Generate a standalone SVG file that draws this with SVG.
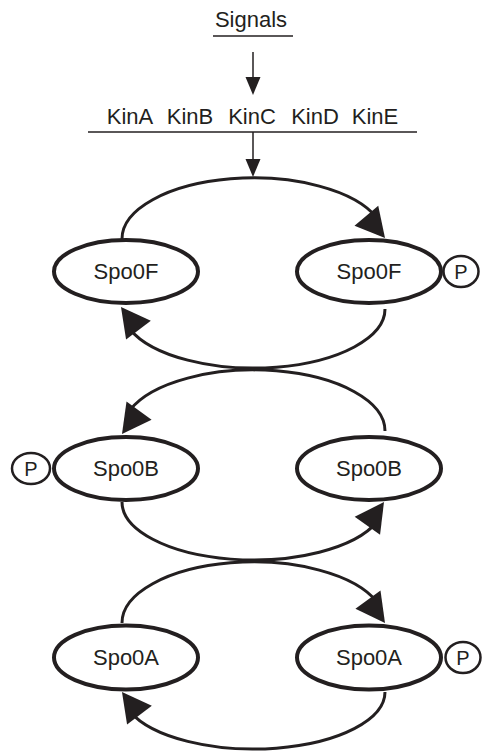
<svg xmlns="http://www.w3.org/2000/svg" width="483" height="751" viewBox="0 0 483 751">
  <style>
    text { font-family: "Liberation Sans", Arial, sans-serif; fill: #231f20; }
    .lbl { font-size: 22px; text-anchor: middle; }
    .p { font-size: 20px; text-anchor: middle; }
    .node { fill: #ffffff; stroke: #231f20; stroke-width: 4; }
    .phos { fill: #ffffff; stroke: #231f20; stroke-width: 2.5; }
    .rule { stroke: #231f20; stroke-width: 1.5; fill: none; }
    .arc { stroke: #231f20; stroke-width: 3; fill: none; }
    .head { fill: #231f20; }
  </style>
  <defs>
    <!-- large arrowhead, tip at origin pointing along +x -->
    <polygon id="bighead" points="0,0 -29,-15.5 -29,15.5"/>
    <!-- small arrowhead for the signal cascade -->
    <polygon id="smallhead" points="0,0 -18,-7.5 -18,7.5"/>
  </defs>

  <!-- signal input and kinases -->
  <g id="signals">
    <text class="lbl" x="251" y="27">Signals</text>
    <line class="rule" x1="213" y1="36" x2="293" y2="36"/>
  </g>
  <g id="kinases">
    <text class="lbl" x="130" y="124">KinA</text>
    <text class="lbl" x="190" y="124">KinB</text>
    <text class="lbl" x="252" y="124">KinC</text>
    <text class="lbl" x="315" y="124">KinD</text>
    <text class="lbl" x="375" y="124">KinE</text>
    <line class="rule" x1="88" y1="132" x2="417" y2="132"/>
  </g>

  <!-- connectors -->
  <g id="connectors">
    <line class="rule" x1="253" y1="52" x2="253" y2="80"/>
    <use href="#smallhead" class="head" transform="translate(253,95) rotate(90)"/>
    <line class="rule" x1="253" y1="132" x2="253" y2="162"/>
    <use href="#smallhead" class="head" transform="translate(253,177) rotate(90)"/>

    <!-- Spo0F cycle -->
    <path class="arc" d="M122,239 A131.5,61 0 0 1 377.1,218.1"/>
    <use href="#bighead" class="head" transform="translate(385,238) rotate(50)"/>
    <path class="arc" d="M385,309 A131.5,59 0 0 1 129.9,329.2"/>
    <use href="#bighead" class="head" transform="translate(121,307) rotate(-127)"/>

    <!-- Spo0B cycle -->
    <path class="arc" d="M385,431 A131.5,61 0 0 0 129.9,410.1"/>
    <use href="#bighead" class="head" transform="translate(122,434) rotate(126)"/>
    <path class="arc" d="M122,502 A131.5,58 0 0 0 377.1,521.8"/>
    <use href="#bighead" class="head" transform="translate(384,502) rotate(-55)"/>

    <!-- Spo0A cycle -->
    <path class="arc" d="M122,623 A131.5,61 0 0 1 377.1,602.1"/>
    <use href="#bighead" class="head" transform="translate(385,623) rotate(54)"/>
    <path class="arc" d="M385,692 A131.5,57 0 0 1 129.9,711.5"/>
    <use href="#bighead" class="head" transform="translate(122,692) rotate(-127)"/>
  </g>

  <!-- Spo0F pair -->
  <g id="spo0f">
    <ellipse class="node" cx="126" cy="271.5" rx="72" ry="31.5"/>
    <text class="lbl" x="126" y="278.5">Spo0F</text>
  </g>
  <g id="spo0f-p">
    <ellipse class="node" cx="369" cy="271.5" rx="72" ry="31.5"/>
    <text class="lbl" x="369" y="278.5">Spo0F</text>
    <ellipse class="phos" cx="461" cy="271.5" rx="17.5" ry="15.5"/>
    <text class="p" x="461" y="278.5">P</text>
  </g>

  <!-- Spo0B pair -->
  <g id="spo0b-p">
    <ellipse class="phos" cx="31" cy="468.5" rx="19" ry="15.5"/>
    <text class="p" x="31" y="475.5">P</text>
    <ellipse class="node" cx="126" cy="468.5" rx="72" ry="31.5"/>
    <text class="lbl" x="126" y="475.5">Spo0B</text>
  </g>
  <g id="spo0b">
    <ellipse class="node" cx="369" cy="468.5" rx="72" ry="31.5"/>
    <text class="lbl" x="369" y="475.5">Spo0B</text>
  </g>

  <!-- Spo0A pair -->
  <g id="spo0a">
    <ellipse class="node" cx="126" cy="657.5" rx="72" ry="32"/>
    <text class="lbl" x="126" y="665">Spo0A</text>
  </g>
  <g id="spo0a-p">
    <ellipse class="node" cx="369" cy="657.5" rx="72" ry="32"/>
    <text class="lbl" x="369" y="665">Spo0A</text>
    <ellipse class="phos" cx="463" cy="657.5" rx="17.5" ry="15.5"/>
    <text class="p" x="463" y="664.5">P</text>
  </g>
</svg>
